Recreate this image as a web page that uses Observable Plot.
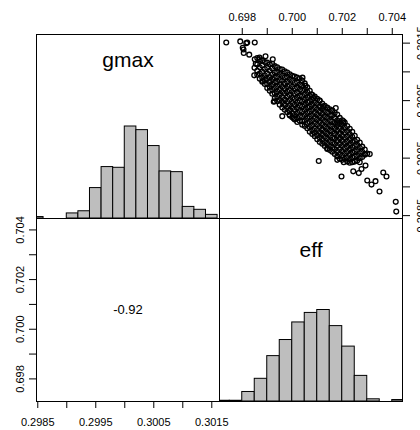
<!DOCTYPE html>
<html><head><meta charset="utf-8">
<script src="https://cdn.jsdelivr.net/npm/d3@7"></script>
<script src="https://cdn.jsdelivr.net/npm/@observablehq/plot@0.6"></script>
<style>
html,body{margin:0;padding:0;background:#fff;}
#chart{width:420px;height:430px;overflow:hidden;}
</style></head><body><div id="chart"></div>
<script>
// ---- data ----
const varNames = ["gmax", "eff"];
const correlationText = "-0.92";

// histogram of gmax (bin edges and counts)
const gmaxBreaks = [0.2984,0.2986,0.2988,0.2990,0.2992,0.2994,0.2996,0.2998,0.3000,0.3002,0.3004,0.3006,0.3008,0.3010,0.3012,0.3014,0.3016];
const gmaxCounts = [2,0,0,7,10,42,71,70,127,122,100,65,64,16,12,5];

// histogram of eff
const effBreaks = [0.6970,0.6975,0.6980,0.6985,0.6990,0.6995,0.7000,0.7005,0.7010,0.7015,0.7020,0.7025,0.7030,0.7035,0.7040,0.7045];
const effCounts = [1,1,13,31,62,84,108,121,125,103,75,35,3,0,2];

// axis ticks and labels
const effTicks = [0.698,0.699,0.700,0.701,0.702,0.703,0.704];
const effTickLabels = ["0.698","","0.700","","0.702","","0.704"];
const gmaxTicks = [0.2985,0.2990,0.2995,0.3000,0.3005,0.3010,0.3015];
const gmaxTickLabels = ["0.2985","","0.2995","","0.3005","","0.3015"];

// scatter: dense core, read column by column (eff) with gmax values
const effCols = [0.6986,0.6987,0.6988,0.6989,0.6990,0.6991,0.6992,0.6993,0.6994,0.6995,0.6996,0.6997,0.6998,0.6999,0.7000,0.7001,0.7002,0.7003,0.7004,0.7005,0.7006,0.7007,0.7008,0.7009,0.7010,0.7011,0.7012,0.7013,0.7014,0.7015,0.7016,0.7017,0.7018,0.7019,0.7020,0.7021,0.7022,0.7023,0.7024,0.7025,0.7026,0.7027,0.7028,0.7029,0.7030];
const gmaxByCol = [
 [0.30124,0.30113,0.30102,0.30095],
 [0.30122,0.30108,0.30097,0.30088],
 [0.30120,0.30111,0.30100,0.30090,0.30083],
 [0.30117,0.30105,0.30094,0.30086,0.30079],
 [0.30116,0.30107,0.30097,0.30088,0.30079,0.30072],
 [0.30113,0.30102,0.30091,0.30083,0.30074,0.30067],
 [0.30114,0.30106,0.30096,0.30087,0.30078,0.30069,0.30062],
 [0.30110,0.30099,0.30090,0.30081,0.30072,0.30063,0.30054],
 [0.30108,0.30100,0.30092,0.30083,0.30075,0.30066,0.30057,0.30049],
 [0.30105,0.30096,0.30086,0.30078,0.30069,0.30060,0.30051,0.30043],
 [0.30104,0.30093,0.30084,0.30074,0.30065,0.30056,0.30047,0.30038],
 [0.30101,0.30090,0.30080,0.30071,0.30062,0.30052,0.30043,0.30034],
 [0.30099,0.30091,0.30083,0.30075,0.30066,0.30057,0.30048,0.30039,0.30030],
 [0.30096,0.30087,0.30077,0.30068,0.30060,0.30051,0.30042,0.30033,0.30024],
 [0.30093,0.30084,0.30074,0.30065,0.30055,0.30046,0.30037,0.30028,0.30021],
 [0.30092,0.30081,0.30071,0.30062,0.30053,0.30043,0.30034,0.30025,0.30017],
 [0.30090,0.30082,0.30073,0.30064,0.30056,0.30047,0.30038,0.30029,0.30020,0.30013],
 [0.30088,0.30078,0.30069,0.30059,0.30050,0.30041,0.30032,0.30023,0.30015],
 [0.30085,0.30076,0.30067,0.30058,0.30049,0.30040,0.30031,0.30022,0.30014,0.30008],
 [0.30080,0.30070,0.30061,0.30052,0.30043,0.30034,0.30025,0.30016,0.30006],
 [0.30073,0.30065,0.30056,0.30047,0.30038,0.30029,0.30020,0.30011,0.30002],
 [0.30067,0.30058,0.30049,0.30040,0.30031,0.30022,0.30013,0.30004,0.29996],
 [0.30060,0.30052,0.30043,0.30034,0.30025,0.30016,0.30007,0.29999,0.29992],
 [0.30057,0.30047,0.30038,0.30029,0.30020,0.30011,0.30002,0.29994,0.29988],
 [0.30053,0.30044,0.30035,0.30026,0.30017,0.30008,0.29999,0.29990,0.29983],
 [0.30050,0.30040,0.30031,0.30022,0.30013,0.30004,0.29995,0.29986,0.29978],
 [0.30045,0.30036,0.30027,0.30018,0.30009,0.30000,0.29991,0.29982,0.29975],
 [0.30041,0.30032,0.30023,0.30014,0.30005,0.29996,0.29987,0.29978,0.29971],
 [0.30038,0.30029,0.30020,0.30011,0.30002,0.29993,0.29984,0.29975,0.29967],
 [0.30035,0.30025,0.30016,0.30007,0.29998,0.29989,0.29980,0.29971,0.29964],
 [0.30033,0.30024,0.30014,0.30005,0.29996,0.29986,0.29977,0.29968,0.29961],
 [0.30029,0.30020,0.30011,0.30002,0.29993,0.29984,0.29975,0.29966,0.29957],
 [0.30026,0.30016,0.30007,0.29998,0.29989,0.29980,0.29971,0.29962,0.29953],
 [0.30020,0.30011,0.30002,0.29993,0.29984,0.29975,0.29966,0.29957,0.29949],
 [0.30016,0.30007,0.29998,0.29989,0.29980,0.29971,0.29962,0.29954,0.29947],
 [0.30012,0.30003,0.29994,0.29985,0.29976,0.29967,0.29958,0.29949],
 [0.30006,0.29997,0.29988,0.29979,0.29970,0.29961,0.29952,0.29944],
 [0.30001,0.29992,0.29983,0.29974,0.29965,0.29956,0.29947,0.29942],
 [0.29996,0.29987,0.29978,0.29969,0.29960,0.29951,0.29943],
 [0.29989,0.29980,0.29971,0.29962,0.29953,0.29944],
 [0.29982,0.29973,0.29964,0.29955,0.29946],
 [0.29977,0.29968,0.29959,0.29950,0.29943],
 [0.29970,0.29961,0.29952],
 [0.29965,0.29956],
 [0.29958]
];
// scatter: individually visible points
const outlierEff  = [0.69736,0.69792,0.69816,0.69820,0.69850,0.69805,0.69806,0.69828,0.69802,0.69850,0.69854,0.69869,0.69893,0.69922,0.69848,0.69849,0.69926,0.69960,0.70006,0.70053,0.70041,0.70109,0.70174,0.70205,0.70106,0.70197,0.70180,0.70244,0.70266,0.70277,0.70293,0.70292,0.70310,0.70300,0.70317,0.70333,0.70349,0.70364,0.70377,0.70414,0.70416,0.70086,0.70124,0.70140,0.70160,0.70180,0.70204,0.70076,0.69882,0.69929,0.69989,0.70140,0.70206];
const outlierGmax = [0.30151,0.30153,0.30150,0.30151,0.30151,0.30139,0.30133,0.30130,0.30142,0.30122,0.30114,0.30125,0.30127,0.30122,0.30094,0.30107,0.30048,0.30023,0.30019,0.30076,0.30090,0.30050,0.30037,0.30014,0.29945,0.29918,0.29947,0.29927,0.29924,0.29931,0.29937,0.29957,0.29957,0.29911,0.29904,0.29910,0.29892,0.29925,0.29918,0.29874,0.29857,0.30055,0.30040,0.30037,0.30032,0.30011,0.30011,0.30061,0.30084,0.30049,0.30026,0.29966,0.29943];

// ---- layout ----
const W = 420, H = 430;
const xL = 36, xM = 219, xR = 402, yT = 34, yM = 218, yB = 401;
const gmaxDomX = [0.298478, 0.301633];
const gmaxDomY = [0.29845, 0.30165];
const effDomX = [0.69709, 0.70441];
const effDomY = [0.69709, 0.70446];
const font = "'Liberation Sans', Arial, Helvetica, sans-serif";
const baseStyle = {fontFamily: font, fontSize: "11px", color: "black", background: "transparent", overflow: "visible"};

function histRows(breaks, counts) {
  const m = d3.max(counts);
  return counts.map((c, i) => ({x1: breaks[i], x2: breaks[i + 1], h: c / m}));
}
const effLabel = new Map(effTicks.map((d, i) => [d, effTickLabels[i]]));
const gmaxLabel = new Map(gmaxTicks.map((d, i) => [d, gmaxTickLabels[i]]));

const points = [];
effCols.forEach((e, i) => gmaxByCol[i].forEach(g => points.push({eff: e, gmax: g})));
outlierEff.forEach((e, i) => points.push({eff: e, gmax: outlierGmax[i]}));

function panelMargins(x0, x1, y0, y1) {
  return {width: W, height: H, marginLeft: x0, marginRight: W - x1, marginTop: y0, marginBottom: H - y1};
}

function histPanel(x0, x1, y0, y1, dom, breaks, counts, name, labelDy) {
  return Plot.plot({
    ...panelMargins(x0, x1, y0, y1),
    style: baseStyle,
    x: {domain: dom, axis: null},
    y: {domain: [0, 2], axis: null},
    marks: [
      Plot.rectY(histRows(breaks, counts), {x1: "x1", x2: "x2", y: "h", fill: "#bebebe", stroke: "black", strokeWidth: 1, inset: 0, clip: true}),
      Plot.ruleY([0], {x1: breaks[0], x2: breaks[breaks.length - 1], stroke: "black", strokeWidth: 1, clip: true}),
      Plot.text([name], {frameAnchor: "top", lineAnchor: "bottom", dy: labelDy, fontSize: 21, fill: "black", fontFamily: font}),
      Plot.frame({stroke: "black", strokeWidth: 1})
    ]
  });
}

const pTL = histPanel(xL, xM, yT, yM, gmaxDomX, gmaxBreaks, gmaxCounts, varNames[0], 32);
const pBR = histPanel(xM, xR, yM, yB, effDomX, effBreaks, effCounts, varNames[1], 38);

const pTR = Plot.plot({
  ...panelMargins(xM, xR, yT, yM),
  style: baseStyle,
  x: {domain: effDomX, axis: null},
  y: {domain: gmaxDomY, axis: null},
  marks: [
    Plot.dot(points, {x: "eff", y: "gmax", r: 2.4, stroke: "black", strokeWidth: 1.3, fill: "none"}),
    Plot.axisX(effTicks, {anchor: "top", tickSize: 7, tickPadding: 7, tickFormat: d => effLabel.get(d), label: null, fontSize: 11, stroke: "black", fill: "black"}),
    Plot.axisY(gmaxTicks, {anchor: "right", tickSize: 7, tickPadding: 15, tickRotate: -90, tickFormat: d => gmaxLabel.get(d), label: null, fontSize: 11, stroke: "black", fill: "black"}),
    Plot.frame({stroke: "black", strokeWidth: 1})
  ]
});

const pBL = Plot.plot({
  ...panelMargins(xL, xM, yM, yB),
  style: baseStyle,
  x: {domain: gmaxDomX, axis: null},
  y: {domain: effDomY, axis: null},
  marks: [
    Plot.text([correlationText], {frameAnchor: "middle", lineAnchor: "middle", fontSize: 13, fill: "black", fontFamily: font}),
    Plot.axisX(gmaxTicks, {anchor: "bottom", tickSize: 7, tickPadding: 10, tickFormat: d => gmaxLabel.get(d), label: null, fontSize: 11, stroke: "black", fill: "black"}),
    Plot.axisY(effTicks, {anchor: "left", tickSize: 7, tickPadding: 6, tickRotate: -90, tickFormat: d => effLabel.get(d), label: null, fontSize: 11, stroke: "black", fill: "black"}),
    Plot.frame({stroke: "black", strokeWidth: 1})
  ]
});

const root = d3.create("svg")
  .attr("width", W).attr("height", H).attr("viewBox", `0 0 ${W} ${H}`)
  .style("display", "block").style("background", "white");
for (const p of [pTL, pTR, pBL, pBR]) root.node().appendChild(p);
document.getElementById("chart").appendChild(root.node());
</script>
</body></html>
